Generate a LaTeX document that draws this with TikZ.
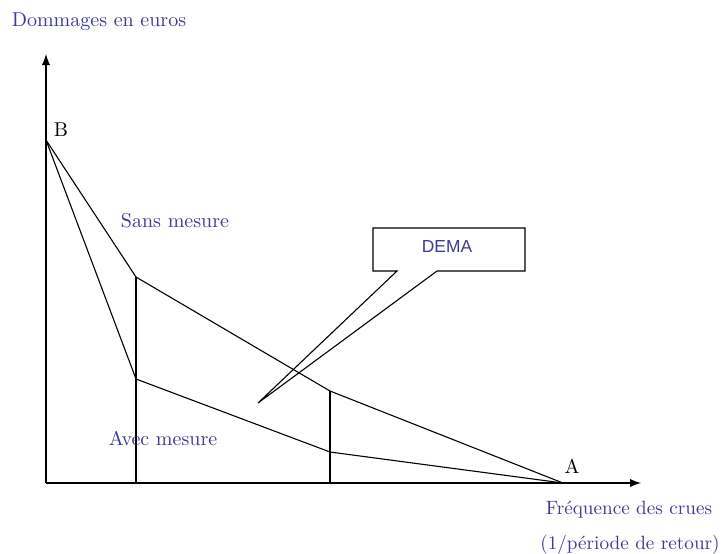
\documentclass[tikz,border=0pt]{standalone}
\usepackage{fontspec}
\newfontfamily\demafont{Liberation Sans}
\definecolor{labelblue}{RGB}{62,56,150}
\begin{document}
\begin{tikzpicture}[x=0.5pt,y=-0.5pt,line width=0.55pt,
    every node/.style={inner sep=0pt},
    lbl/.style={text=labelblue,font=\fontsize{10}{12}\selectfont},
    axis/.style={line width=0.9pt,-latex}]
    \useasboundingbox (0,0) rectangle (722,553);
    % points
    \coordinate (O) at (46,483);
    \coordinate (B) at (46,140);
    \coordinate (A) at (563,483);
    \coordinate (s1) at (136,277);
    \coordinate (s2) at (330,391);
    \coordinate (a1) at (136,379);
    \coordinate (a2) at (330,452);
    \coordinate (f1) at (136,483);
    \coordinate (f2) at (330,483);
    \coordinate (ytop) at (46,54);
    \coordinate (xend) at (641,483);
    % axes
    \draw[axis] (O) -- (ytop);
    \draw[axis] (O) -- (xend);
    % curves
    \draw (B) -- (s1) -- (s2) -- (A);
    \draw (B) -- (a1) -- (a2) -- (A);
    \draw[line width=0.75pt] (s1) -- (f1);
    \draw[line width=0.75pt] (s2) -- (f2);
    % labels
    \node[lbl] (yl) at (99,22) {Dommages en euros};
    \node[font=\fontsize{10}{12}\selectfont] (lB) at (61,130) {B};
    \node[font=\fontsize{10}{12}\selectfont] (lA) at (572,466) {A};
    \node[lbl] (sans) at (175,221) {Sans mesure};
    \node[lbl] (avec) at (163,438) {Avec mesure};
    \node[lbl,font=\fontsize{9.6}{12}\selectfont] (xl1) at (629,510) {Fréquence des crues};
    \node[lbl,font=\fontsize{9.6}{12}\selectfont] (xl2) at (630,545) {(1/période de retour)};
    % callout
    \coordinate (c1) at (373,228);
    \coordinate (c2) at (525,228);
    \coordinate (c3) at (525,271);
    \coordinate (c4) at (437,271);
    \coordinate (tip) at (258,403);
    \coordinate (c5) at (397,271);
    \coordinate (c6) at (373,271);
    \draw (c1) -- (c2) -- (c3) -- (c4) -- (tip) -- (c5) -- (c6) -- cycle;
    \node[text=labelblue,font=\demafont\fontsize{8.7}{10}\selectfont] (dema) at (447,247) {DEMA};
\end{tikzpicture}
\end{document}
